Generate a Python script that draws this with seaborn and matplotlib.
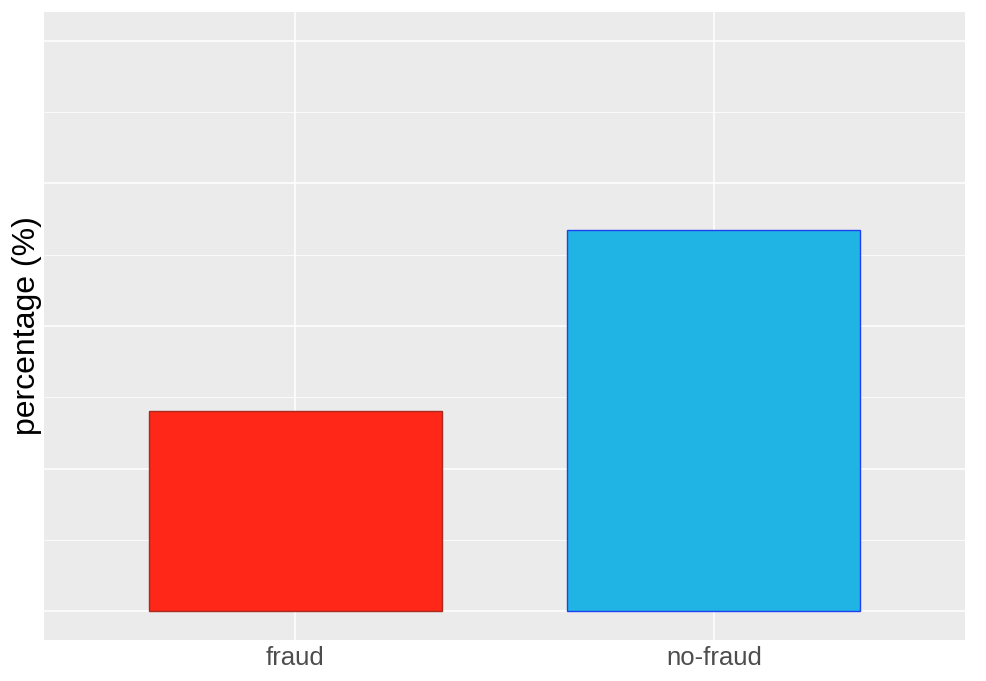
import matplotlib
matplotlib.use("Agg")
import matplotlib.pyplot as plt
import seaborn as sns
import pandas as pd
from matplotlib.ticker import MultipleLocator

categories = ["fraud", "no-fraud"]
percentages = [14.05, 26.75]
fill_colors = ["#FF2717", "#1FB4E4"]
edge_colors = ["#A82A20", "#2040F0"]

df = pd.DataFrame({"label": categories, "pct": percentages})

sns.set_theme(style="darkgrid")
plt.rcParams["font.family"] = ["Liberation Sans", "DejaVu Sans"]

fig = plt.figure(figsize=(9.87, 6.81), dpi=100)
ax = fig.add_axes([44 / 987, 41 / 681, 921 / 987, 628 / 681])
ax.set_facecolor("#EBEBEB")

sns.barplot(data=df, x="label", y="pct", hue="label", palette=fill_colors,
            width=0.7, legend=False, ax=ax, saturation=1, zorder=3)
for patch, ec in zip(ax.patches, edge_colors):
    patch.set_edgecolor(ec)
    patch.set_linewidth(1.0)

ax.set_xlim(-0.6, 1.6)
ax.set_ylim(-2, 42)
ax.yaxis.set_major_locator(MultipleLocator(10))
ax.yaxis.set_minor_locator(MultipleLocator(5))
ax.grid(which="major", color="white", linewidth=1.1, zorder=0)
ax.grid(which="minor", axis="y", color="white", linewidth=0.55, zorder=0)
ax.set_axisbelow(True)
ax.set_yticklabels([])
ax.tick_params(axis="y", which="both", length=0)
ax.tick_params(axis="x", length=2.5, color="#333333", labelsize=18.5, labelcolor="#4D4D4D", pad=2)
for s in ax.spines.values():
    s.set_visible(False)

ax.set_xlabel("")
ax.set_ylabel("percentage (%)", fontsize=23, color="black", labelpad=-2)

fig.savefig("out.png", dpi=100)
